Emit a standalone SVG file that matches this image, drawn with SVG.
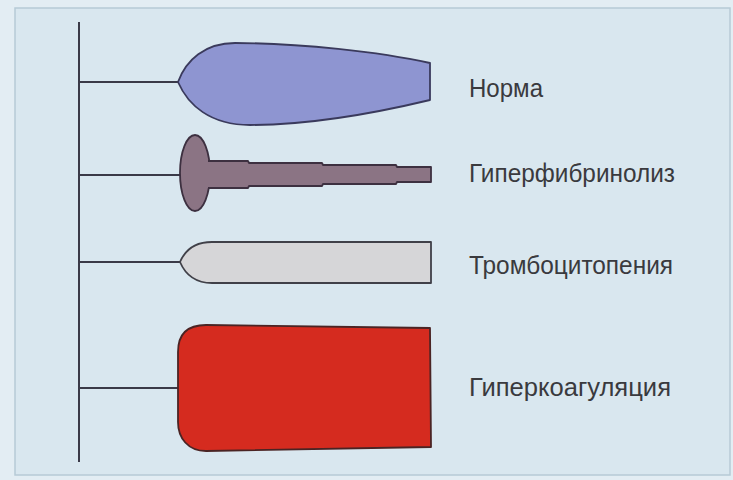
<svg xmlns="http://www.w3.org/2000/svg" width="733" height="480" viewBox="0 0 733 480">
  <style>
    .conn { stroke: #3a3a48; stroke-width: 2; fill: none; }
    .outline { stroke-width: 1.8; stroke-linejoin: round; }
    .label { font-family: "Liberation Sans", Arial, sans-serif; font-size: 25px; fill: #3a3a3e; }
  </style>
  <rect x="0" y="0" width="733" height="480" fill="#e3edf3"/>
  <rect x="15" y="8" width="715" height="467" fill="#d9e7ef" stroke="#b7cad6" stroke-width="1.5"/>

  <g id="connectors">
    <line class="conn" x1="79" y1="22" x2="79" y2="462"/>
    <line class="conn" x1="79" y1="82" x2="179" y2="82"/>
    <line class="conn" x1="79" y1="175" x2="181" y2="175"/>
    <line class="conn" x1="79" y1="262" x2="181" y2="262"/>
    <line class="conn" x1="79" y1="388" x2="178" y2="388"/>
  </g>

  <g id="norma">
    <path class="outline" fill="#8e95d1" stroke="#3a3a5c"
      d="M178,82 C186,60 205,43 235,43 C300,43 380,52 430,63 L430,100 C380,112 310,125 250,125 C210,125 188,105 178,82 Z"/>
    <text class="label" x="469" y="97" textLength="74" lengthAdjust="spacingAndGlyphs">Норма</text>
  </g>

  <g id="hyperfibrinolysis">
    <ellipse class="outline" cx="195" cy="173" rx="15" ry="38" fill="#8b7484" stroke="#3d3040"/>
    <path fill="#8b7484" d="M200,161 L248,161 L249,163 L322,163 L323,165 L396,165 L397,167 L431,167 L431,182 L397,182 L396,184 L323,184 L322,186 L249,186 L248,188 L200,188 Z"/>
    <path class="outline" fill="none" stroke="#3d3040" d="M208,161 L248,161 L249,163 L322,163 L323,165 L396,165 L397,167 L431,167 L431,182 L397,182 L396,184 L323,184 L322,186 L249,186 L248,188 L208,188"/>
    <text class="label" x="469" y="182" textLength="206" lengthAdjust="spacingAndGlyphs">Гиперфибринолиз</text>
  </g>

  <g id="thrombocytopenia">
    <path class="outline" fill="#d6d6d8" stroke="#404048"
      d="M180,262 C186,248 196,242 212,242 L431,242 L431,283 L212,283 C196,283 186,276 180,262 Z"/>
    <text class="label" x="469" y="274" textLength="204" lengthAdjust="spacingAndGlyphs">Тромбоцитопения</text>
  </g>

  <g id="hypercoagulation">
    <path class="outline" fill="#d52b1f" stroke="#4a2424"
      d="M178,352 C178,334 188,325 206,325 L430,328 L431,447 L206,451 C188,451 178,438 178,422 Z"/>
    <text class="label" x="469" y="396" textLength="202" lengthAdjust="spacingAndGlyphs">Гиперкоагуляция</text>
  </g>
</svg>
